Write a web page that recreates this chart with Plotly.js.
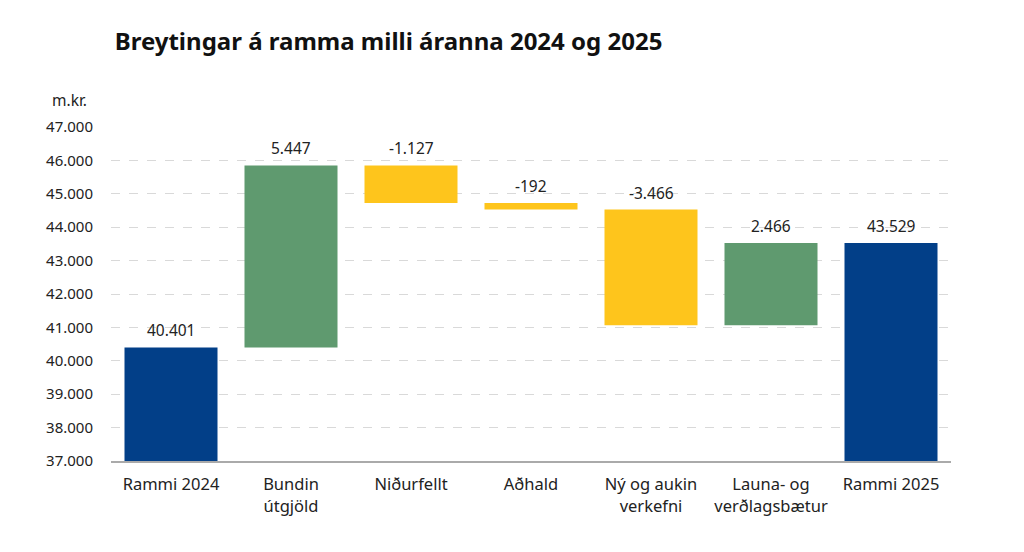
<!DOCTYPE html>
<html><head><meta charset="utf-8">
<script src="https://cdn.plot.ly/plotly-3.0.1.min.js"></script>
<style>html,body{margin:0;padding:0;background:#fff;}#chart{width:1024px;height:552px;}</style>
</head><body><div id="chart"></div>
<script>
var categories = ["Rammi 2024", "Bundin<br>útgjöld", "Niðurfellt", "Aðhald", "Ný og aukin<br>verkefni", "Launa- og<br>verðlagsbætur", "Rammi 2025"];
var values = [40401, 5447, -1127, -192, -3466, 2466, 43529];
var measures = ["absolute", "relative", "relative", "relative", "relative", "relative", "total"];
var yTicks = [37000, 38000, 39000, 40000, 41000, 42000, 43000, 44000, 45000, 46000, 47000];

function fmt(v){
  var s = Math.abs(v).toString().replace(/\B(?=(\d{3})+(?!\d))/g, ".");
  return (v < 0 ? "-" : "") + s;
}
var running = 0, tops = [];
for (var i = 0; i < values.length; i++) {
  if (measures[i] === "absolute") { running = values[i]; tops.push(running); }
  else if (measures[i] === "total") { tops.push(running); }
  else { var prev = running; running += values[i]; tops.push(Math.max(prev, running)); }
}

var font = "Noto Sans, Open Sans, sans-serif";
var traces = [{
  type: "waterfall",
  x: categories,
  y: values,
  measure: measures,
  base: 0,
  connector: {visible: false},
  increasing: {marker: {color: "#5f9a6f"}},
  decreasing: {marker: {color: "#fec51c"}},
  totals: {marker: {color: "#023f88"}},
  textinfo: "none",
  hoverinfo: "skip"
}];

var annotations = [{text: "m.kr.", xref: "paper", yref: "paper", x: -0.05, y: 1.08, xanchor: "center", yanchor: "middle",
                 showarrow: false, font: {family: font, size: 15.5, color: "#222"}}];
for (var j = 0; j < categories.length; j++) {
  annotations.push({x: categories[j], y: tops[j], xref: "x", yref: "y", text: fmt(values[j]), showarrow: false,
    yanchor: "bottom", yshift: 4, font: {family: font, size: 15.5, color: "#222"}});
}

var layout = {
  width: 1024, height: 552,
  margin: {l: 111, r: 73, t: 127, b: 91},
  paper_bgcolor: "#fff", plot_bgcolor: "#fff",
  showlegend: false,
  separators: ",.",
  waterfallgap: 0.225,
  font: {family: font, size: 15, color: "#222"},
  title: {text: "<b>Breytingar á ramma milli áranna 2024 og 2025</b>", x: 0.112, xanchor: "left", y: 0.925, yanchor: "middle",
          font: {family: font, size: 24, color: "#111"}},
  xaxis: {type: "category", showgrid: false, showline: true, linecolor: "#aaa", linewidth: 1.5, ticks: "",
          ticklabelstandoff: 8,
          tickfont: {family: font, size: 16.5, color: "#222"}, fixedrange: true},
  yaxis: {range: [37000, 47000], tickvals: yTicks, tickformat: ",d", showgrid: true, gridcolor: "#d9d9d9",
          griddash: "dash", gridwidth: 1, zeroline: false, showline: false, ticks: "", ticklabelstandoff: 17,
          tickfont: {family: font, size: 15, color: "#222"}, fixedrange: true},
  annotations: annotations
};
Plotly.newPlot("chart", traces, layout, {displayModeBar: false, staticPlot: true});
</script></body></html>
